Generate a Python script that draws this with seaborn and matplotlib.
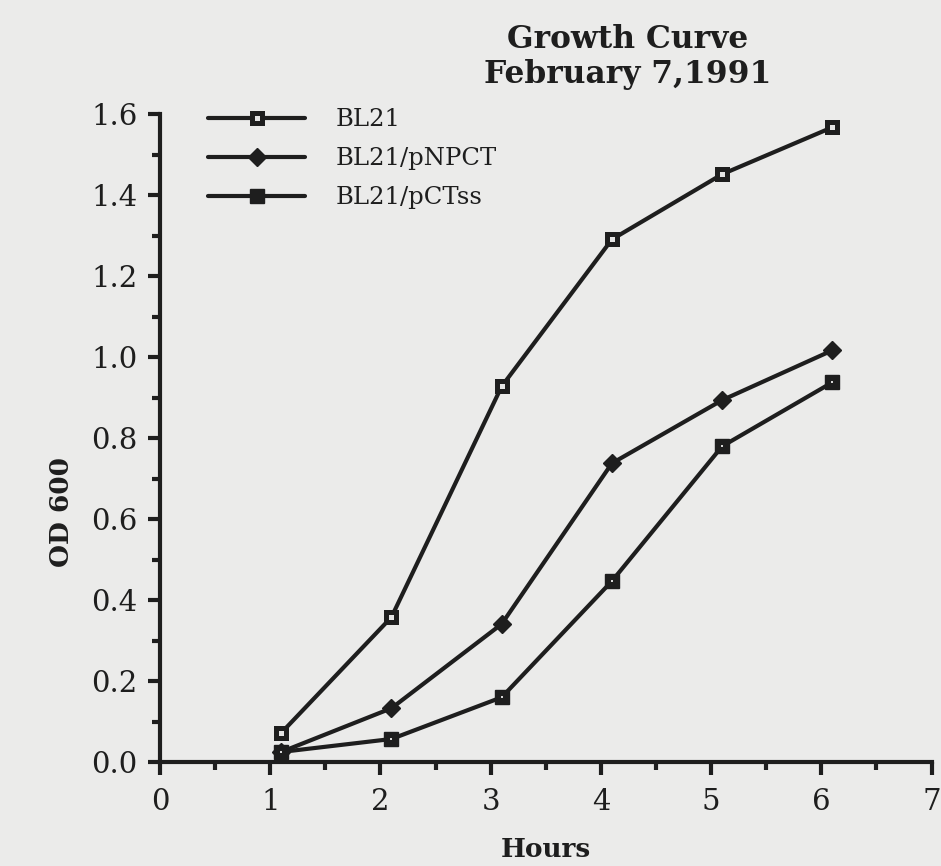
import matplotlib
matplotlib.use("Agg")
import matplotlib.pyplot as plt
import seaborn as sns
import pandas as pd
from matplotlib.lines import Line2D
from matplotlib.ticker import MultipleLocator

hours = [1.1, 2.1, 3.1, 4.1, 5.1, 6.1]
bl21 = [0.072, 0.358, 0.928, 1.291, 1.452, 1.568]
bl21_pnpct = [0.025, 0.133, 0.341, 0.738, 0.894, 1.017]
bl21_pctss = [0.025, 0.057, 0.160, 0.447, 0.780, 0.938]
series_names = ["BL21", "BL21/pNPCT", "BL21/pCTss"]
x_ticks = [0, 1, 2, 3, 4, 5, 6, 7]
y_ticks = [0.0, 0.2, 0.4, 0.6, 0.8, 1.0, 1.2, 1.4, 1.6]

df = pd.DataFrame({
    "Hours": hours * 3,
    "OD": bl21 + bl21_pnpct + bl21_pctss,
    "Strain": [series_names[0]] * 6 + [series_names[1]] * 6 + [series_names[2]] * 6,
})

sns.set_theme(style="ticks")
plt.rcParams["font.family"] = ["DejaVu Serif"]
bg = "#ebebea"
ink = "#1e1e1e"

fig = plt.figure(figsize=(9.41, 8.66), dpi=100, facecolor=bg)
ax = fig.add_axes([0.170, 0.120, 0.820, 0.748], facecolor=bg)

styles = {
    "BL21": dict(marker="s", ms=7.2, mfc="#e4e4e4", mec=ink, mew=3.6),
    "BL21/pNPCT": dict(marker="D", ms=9, mfc=ink, mec=ink, mew=1),
    "BL21/pCTss": dict(marker="s", ms=10, mfc=ink, mec=ink, mew=1),
}

for name in series_names:
    sub = df[df["Strain"] == name]
    sns.lineplot(data=sub, x="Hours", y="OD", ax=ax, color=ink, lw=3,
                 legend=False, zorder=3, **styles[name])

sub = df[df["Strain"] == "BL21/pCTss"]
sns.scatterplot(data=sub, x="Hours", y="OD", ax=ax, color="#d8d8d8", s=3,
                marker="s", linewidth=0, zorder=5, legend=False)

ax.set_xlim(0, 7)
ax.set_ylim(0, 1.6)
ax.set_xticks(x_ticks)
ax.set_yticks(y_ticks)
ax.set_yticklabels([f"{v:.1f}" for v in y_ticks])
ax.xaxis.set_minor_locator(MultipleLocator(0.5))
ax.yaxis.set_minor_locator(MultipleLocator(0.1))
ax.tick_params(axis="both", which="major", length=9, width=3, color=ink,
               labelsize=21, labelcolor=ink, pad=7)
ax.tick_params(axis="x", which="major", pad=10)
ax.tick_params(axis="both", which="minor", length=5.5, width=3, color=ink)
for s in ["top", "right"]:
    ax.spines[s].set_visible(False)
for s in ["left", "bottom"]:
    ax.spines[s].set_linewidth(3)
    ax.spines[s].set_color(ink)

ax.set_xlabel("Hours", fontsize=19, fontweight="bold", color=ink, labelpad=15)
ax.set_ylabel("OD 600", fontsize=19, fontweight="bold", color=ink)
ax.yaxis.set_label_coords(-0.128, 0.386)
ax.yaxis.label.set_va("center")

fig.text(0.667, 0.972, "Growth Curve\nFebruary 7,1991", ha="center", va="top",
         fontsize=22.5, fontweight="bold", color=ink, linespacing=1.15)

handles = [Line2D([], [], color=ink, lw=3, **styles[n]) for n in series_names]
leg = ax.legend(handles, series_names, loc="upper left",
                bbox_to_anchor=(0.034, 1.043), frameon=False, fontsize=17.5,
                handlelength=4.0, handletextpad=1.25, labelspacing=0.66,
                labelcolor=ink)

fig.savefig("out.png", dpi=100, facecolor=bg)
